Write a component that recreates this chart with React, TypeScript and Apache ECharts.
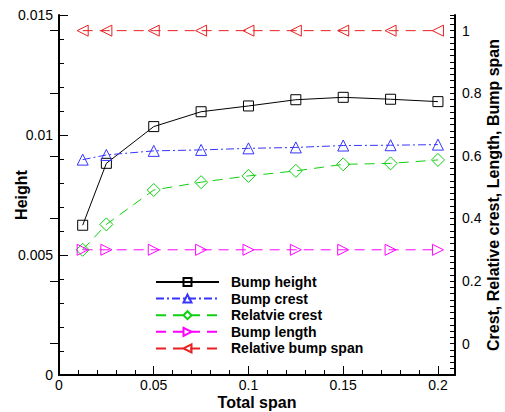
import React, { useEffect, useRef } from "react";
import * as echarts from "echarts";

const totalSpan = [0.0125, 0.025, 0.05, 0.075, 0.1, 0.125, 0.15, 0.175, 0.2];
const bumpHeight = [0.00624, 0.00882, 0.01035, 0.01097, 0.01121, 0.01147, 0.01157, 0.01149, 0.01139];
const bumpCrest = [0.588, 0.603, 0.616, 0.619, 0.624, 0.627, 0.633, 0.634, 0.636];
const relativeCrest = [0.3, 0.381, 0.491, 0.516, 0.536, 0.552, 0.573, 0.576, 0.587];
const bumpLength = [0.3, 0.3, 0.3, 0.3, 0.3, 0.3, 0.3, 0.3, 0.3];
const relativeBumpSpan = [1, 1, 1, 1, 1, 1, 1, 1, 1];
const rightMajorTicks = [0, 0.2, 0.4, 0.6, 0.8, 1];

const FONT = "Liberation Sans, Arial, Helvetica, sans-serif";

function pairs(ys: number[]) {
  return totalSpan.map((x, i) => [x, ys[i]]);
}

export default function App() {
  const ref = useRef<HTMLDivElement>(null);
  useEffect(() => {
    if (!ref.current) return;
    const chart = echarts.init(ref.current, null, { renderer: "svg" });
    const axisLine = { show: true, onZero: false, lineStyle: { color: "#000", width: 2 } };
    const tickLabel = { color: "#000", fontSize: 14, fontFamily: FONT };
    const nameStyle = { color: "#000", fontSize: 16, fontWeight: "bold" as const, fontFamily: FONT };
    const mk = (name: string, data: number[], yIdx: number, color: string, symbol: string, size: number, rot: number, type: any) => ({
      name,
      type: "line",
      yAxisIndex: yIdx,
      data: pairs(data),
      symbol,
      symbolSize: size,
      symbolRotate: rot,
      showAllSymbol: true,
      lineStyle: { color, width: 1, type },
      itemStyle: { color: "transparent", borderColor: color, borderWidth: 1 },
      emphasis: { disabled: true },
      z: 3,
    });
    chart.setOption({
      animation: false,
      backgroundColor: "#fff",
      textStyle: { fontFamily: FONT },
      grid: { left: 59, right: 50, top: 15, bottom: 37, containLabel: false, outerBoundsMode: "none" },
      legend: {
        orient: "vertical",
        left: 155,
        top: 275,
        padding: 0,
        itemWidth: 63,
        itemHeight: 10,
        itemGap: 2.6,
        textStyle: { color: "#000", fontSize: 14, fontWeight: "bold", fontFamily: FONT, padding: [0, 0, 0, 7] },
        data: ["Bump height", "Bump crest", "Relatvie crest", "Bump length", "Relative bump span"],
      },
      xAxis: {
        type: "value",
        min: 0,
        max: 0.209,
        interval: 0.05,
        name: "Total span",
        nameLocation: "middle",
        nameGap: 19,
        nameMoveOverlap: false,
        nameTextStyle: nameStyle,
        axisLine,
        axisTick: { show: true, inside: true, length: 9, lineStyle: { color: "#000", width: 1 } },
        minorTick: { show: true, splitNumber: 5, length: 5, lineStyle: { color: "#000", width: 1 } },
        axisLabel: { ...tickLabel, margin: 3, showMaxLabel: false },
        splitLine: { show: false },
      },
      yAxis: [
        {
          type: "value",
          position: "left",
          min: 0,
          max: 0.015,
          interval: 0.005,
          name: "Height",
          nameLocation: "middle",
          nameRotate: 90,
          nameGap: 30,
          nameMoveOverlap: false,
          nameTextStyle: nameStyle,
          axisLine,
          axisTick: { show: true, inside: true, length: 9, lineStyle: { color: "#000", width: 1 } },
          minorTick: { show: true, splitNumber: 5, length: 5, lineStyle: { color: "#000", width: 1 } },
          axisLabel: { ...tickLabel, margin: 6 },
          splitLine: { show: false },
        },
        {
          type: "value",
          position: "right",
          min: -0.1,
          max: 1.05,
          interval: 0.02,
          name: "Crest, Relative crest, Length, Bump span",
          nameLocation: "middle",
          nameRotate: 90,
          nameGap: 30,
          nameMoveOverlap: false,
          nameTextStyle: nameStyle,
          axisLine,
          axisTick: { show: true, inside: true, length: 5, lineStyle: { color: "#000", width: 1 } },
          axisLabel: { ...tickLabel, margin: 7, customValues: rightMajorTicks },
          splitLine: { show: false },
        },
        {
          type: "value",
          position: "right",
          min: -0.1,
          max: 1.05,
          axisLine: { show: false },
          axisTick: { show: true, inside: true, length: 9, customValues: rightMajorTicks, lineStyle: { color: "#000", width: 1 } },
          axisLabel: { show: false },
          splitLine: { show: false },
        },
      ],
      series: [
        mk("Bump height", bumpHeight, 0, "#000000", "rect", 10, 0, "solid"),
        mk("Bump crest", bumpCrest, 1, "#3535ff", "triangle", 11, 0, [8, 3, 2, 3]),
        mk("Relatvie crest", relativeCrest, 1, "#10d010", "diamond", 13, 0, [10, 7]),
        mk("Bump length", bumpLength, 1, "#ff00ff", "triangle", 11, -90, [10, 7]),
        mk("Relative bump span", relativeBumpSpan, 1, "#e82020", "triangle", 11, 90, [10, 7]),
      ],
    });
    return () => chart.dispose();
  }, []);
  return <div ref={ref} style={{ width: 505, height: 412, position: "absolute", left: 0, top: 0 }} />;
}
